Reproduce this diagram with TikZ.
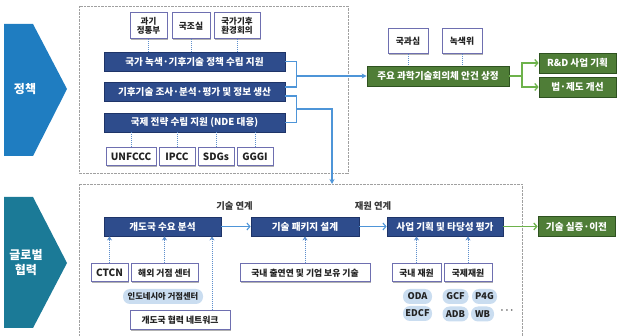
\documentclass[tikz,border=0pt]{standalone}
\usepackage{fontspec}
\setmainfont{Noto Sans CJK KR}
\usetikzlibrary{arrows.meta,shadows}
\definecolor{navy}{HTML}{2E4C8C}
\definecolor{navyd}{HTML}{1E3468}
\definecolor{lbord}{HTML}{6E6FB0}
\definecolor{gfill}{HTML}{4F7D37}
\definecolor{gbord}{HTML}{2E5220}
\definecolor{conn}{HTML}{4E95D8}
\definecolor{gconn}{HTML}{6DB24B}
\definecolor{dotc}{HTML}{5E8FCC}
\definecolor{pillc}{HTML}{CADDF0}
\definecolor{chevA}{HTML}{1F7DC1}
\definecolor{chevB}{HTML}{1B7A97}
\definecolor{framec}{HTML}{A0A0A0}
\definecolor{txt}{HTML}{222222}
\tikzset{
  shd/.style={drop shadow={shadow xshift=1pt,shadow yshift=-1pt,opacity=0.3,fill=black}},
  bar/.style={draw=navyd, fill=navy, text=white, line width=0.8pt, inner sep=0pt, shd,
    font=\bfseries\fontsize{9.6}{11}\selectfont},
  lbox/.style={draw=lbord, fill=white, text=txt, line width=1pt, inner sep=0pt, shd,
    font=\bfseries\fontsize{8.8}{10}\selectfont, align=center},
  latin/.style={font=\bfseries\fontsize{10}{11}\selectfont},
  gbox/.style={draw=gbord, fill=gfill, text=white, line width=0.8pt, inner sep=0pt, shd,
    font=\bfseries\fontsize{9.6}{11}\selectfont},
  pillst/.style={fill=pillc, text=txt, rounded corners=7pt, inner sep=0pt,
    minimum height=15pt, font=\bfseries\fontsize{8.3}{10}\selectfont},
  pillat/.style={pillst, font=\bfseries\fontsize{9.2}{10}\selectfont},
  frm/.style={draw=framec, line width=0.7pt, dash pattern=on 0.7pt off 0.7pt},
  dl/.style={dotc, line width=1pt, dash pattern=on 1pt off 1pt},
  darr/.style={dl, -{Stealth[length=4pt,width=5pt]}},
  cl/.style={conn, line width=1.1pt},
  carr/.style={cl, -{Stealth[length=5pt,width=5pt]}},
  barb/.style={cl, -{Straight Barb[length=3pt,width=7pt]}},
  gl/.style={gconn, line width=1.3pt},
  garr/.style={gl, -{Straight Barb[length=3pt,width=7pt]}},
  lbl/.style={text=txt!90, font=\bfseries\fontsize{9.3}{11}\selectfont},
  chevtxt/.style={text=white, font=\bfseries\fontsize{12}{15}\selectfont, align=center}
}
\begin{document}
\begin{tikzpicture}[x=1pt,y=-1pt]
\useasboundingbox (0,0) rectangle (618,336);
% chevrons
\fill[chevA] (4,24) -- (33,24) -- (67,89) -- (33,156) -- (4,156) -- cycle;
\node[chevtxt] (ch1) at (25,89) {정책};
\fill[chevB] (4,197) -- (33,197) -- (67,263) -- (33,328) -- (4,328) -- cycle;
\node[chevtxt] (ch2) at (26,263) {글로벌\\협력};
% frames
\draw[frm] (79,6) rectangle (348,173);
\draw[frm] (79,340) -- (79,184) -- (522,184) -- (522,340);
% upper section
\node[lbox, minimum width=37pt, minimum height=26pt, font=\bfseries\fontsize{8.5}{9.5}\selectfont] (m1) at (148.5,26) {과기\\정통부};
\node[lbox, minimum width=38pt, minimum height=26pt] (m2) at (191,26) {국조실};
\node[lbox, minimum width=46pt, minimum height=26pt, font=\bfseries\fontsize{8.5}{9.5}\selectfont] (m3) at (237,26) {국가기후\\환경회의};
\node[bar, minimum width=181pt, minimum height=19pt] (b1) at (194.5,61.5) {국가 녹색·기후기술 정책 수립 지원};
\node[bar, minimum width=181pt, minimum height=19pt] (b2) at (194.5,92) {기후기술 조사·분석·평가 및 정보 생산};
\node[bar, minimum width=181pt, minimum height=19pt] (b3) at (194.5,122.5) {국제 전략 수립 지원 (NDE 대응)};
\node[lbox, latin, minimum width=50pt, minimum height=18pt] (u1) at (131,157) {UNFCCC};
\node[lbox, latin, minimum width=36pt, minimum height=18pt] (u2) at (177,157) {IPCC};
\node[lbox, latin, minimum width=36pt, minimum height=18pt] (u3) at (216,157) {SDGs};
\node[lbox, latin, minimum width=36pt, minimum height=18pt] (u4) at (255,157) {GGGI};
\foreach \n in {m1,m2,m3} \draw[dl] (\n.south) -- (\n.south |- b1.north);
\foreach \n in {u1,u2,u3,u4} \draw[dl] (\n.north |- b3.south) -- (\n.north);
% green section
\node[gbox, minimum width=142pt, minimum height=20pt] (k) at (438,76) {주요 과학기술회의체 안건 상정};
\node[lbox, minimum width=40pt, minimum height=25pt] (g1) at (408,41.5) {국과심};
\node[lbox, minimum width=40pt, minimum height=25pt] (g2) at (462,41.5) {녹색위};
\foreach \n in {g1,g2} \draw[dl] (\n.south) -- (\n.south |- k.north);
\node[gbox, minimum width=77pt, minimum height=20pt] (r1) at (577.5,63) {R\&D 사업 기획};
\node[gbox, minimum width=77pt, minimum height=20pt] (r2) at (577.5,87) {법·제도 개선};
\coordinate (gj) at (522,76);
\draw[gl] (k.east) -- (gj);
\draw[garr] (gj) |- (r1.west);
\draw[garr] (gj) |- (r2.west);
% brackets
\draw[cl] (b1.east) -- ++(11,0) |- ([yshift=5pt]b2.east);
\draw[cl] ([yshift=-4pt]b2.east) -- ++(11,0) |- (b3.east);
\coordinate (j1) at (296,76);
\coordinate (j2) at (296,109);
\coordinate (lt) at (332,184);
\draw[carr] (j1) -- (k.west);
\draw[carr] (j2) -| (lt);
% lower section
\node[lbl] (t1) at (234.5,206) {기술 연계};
\node[lbl] (t2) at (373,206) {재원 연계};
\node[bar, minimum width=117pt, minimum height=19pt] (l1) at (162.5,226.5) {개도국 수요 분석};
\node[bar, minimum width=108pt, minimum height=19pt] (l2) at (305,226.5) {기술 패키지 설계};
\node[bar, minimum width=116pt, minimum height=19pt] (l3) at (445,226.5) {사업 기획 및 타당성 평가};
\node[gbox, minimum width=77pt, minimum height=20pt] (l4) at (576.5,226.5) {기술 실증·이전};
\draw[barb] (l1.east) -- (l2.west);
\draw[barb] (l2.east) -- (l3.west);
\draw[garr] (l3.east) -- (l4.west);
\node[lbox, latin, minimum width=37pt, minimum height=18pt] (c1) at (109.5,273) {CTCN};
\node[lbox, minimum width=67pt, minimum height=18pt] (c2) at (164.5,273) {해외 거점 센터};
\node[pillst, minimum width=80pt] (p1) at (163,296.5) {인도네시아 거점센터};
\node[lbox, minimum width=100pt, minimum height=19pt] (c3) at (180,320.5) {개도국 협력 네트워크};
\draw[darr] (c1.north) -- (c1.north |- l1.south);
\draw[darr] (c2.north) -- (c2.north |- l1.south);
\coordinate (c3t) at ([xshift=32pt]c3.north);
\draw[darr] (c3t) -- (c3t |- l1.south);
\node[lbox, minimum width=130pt, minimum height=18pt] (d1) at (305,273) {국내 출연연 및 기업 보유 기술};
\draw[darr] (d1.north) -- (d1.north |- l2.south);
\node[lbox, minimum width=49pt, minimum height=18pt] (f1) at (416.5,273) {국내 재원};
\node[lbox, minimum width=48pt, minimum height=18pt] (f2) at (468,273) {국제재원};
\draw[darr] (f1.north) -- (f1.north |- l3.south);
\draw[darr] (f2.north) -- (f2.north |- l3.south);
\node[pillat, minimum width=29pt] (q1) at (417.5,296.5) {ODA};
\node[pillat, minimum width=26pt] (q2) at (455.5,296.5) {GCF};
\node[pillat, minimum width=25pt] (q3) at (484.5,296.5) {P4G};
\node[pillat, minimum width=29pt] (q4) at (417.5,313.5) {EDCF};
\node[pillat, minimum width=26pt] (q5) at (455.5,314) {ADB};
\node[pillat, minimum width=23pt] (q6) at (482.5,314) {WB};
\node[text=txt!70, font=\bfseries\fontsize{8}{10}\selectfont] (q7) at (507,312) {···};
\end{tikzpicture}
\end{document}
